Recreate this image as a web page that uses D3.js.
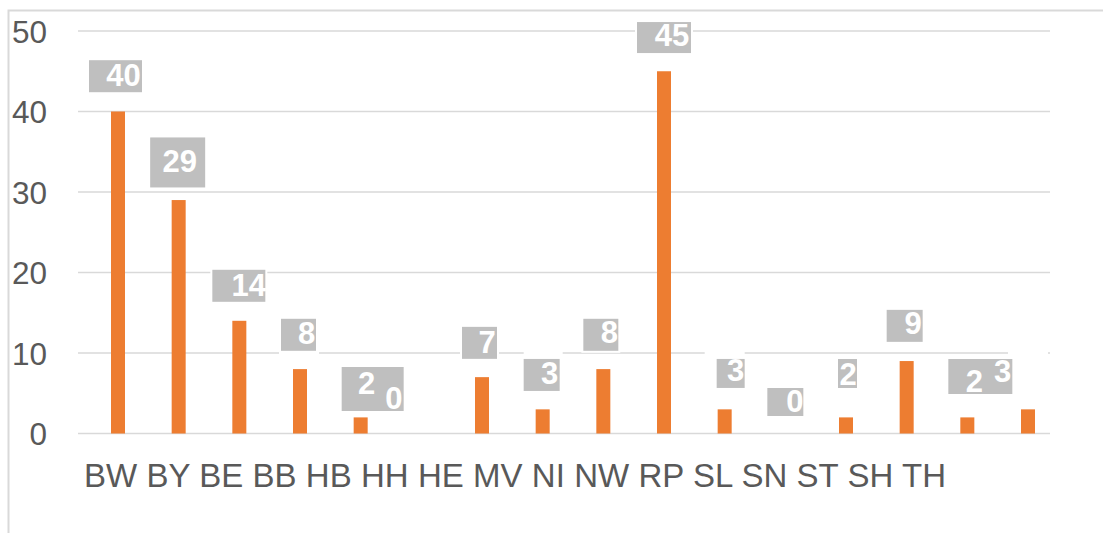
<!DOCTYPE html>
<html>
<head>
<meta charset="utf-8">
<script src="https://cdn.jsdelivr.net/npm/d3@7"></script>
<style>
  html, body { margin: 0; padding: 0; background: #fff; }
  svg { display: block; }
  text { font-family: "Liberation Sans", Arial, sans-serif; }
</style>
</head>
<body>
<svg id="chart" width="1103" height="533"></svg>
<script>
// ---- data ----
const categories = ["BW","BY","BE","BB","HB","HH","HE","MV","NI","NW","RP","SL","SN","ST","SH","TH"];
const values = [40, 29, 14, 8, 2, 0, 7, 3, 8, 45, 3, 0, 2, 9, 2, 3];
const yTicks = [0, 10, 20, 30, 40, 50];

// ---- label layout (pixel offsets from bar centre / bar top) ----
// box: [dx, dy, w, h] of box centre; text: [dx, dy]; halo: white knock-out [dx, dy, w, h]
const labelLayout = [
  {box: [-2.5, -35.3, 53, 32], text: [5.5, -36.3]},
  {box: [-1, -37.6, 55, 50],   text: [1, -38.6]},
  {box: [-0.5, -35, 53, 32],   text: [9.5, -35.5]},
  {box: [-1.5, -34.3, 35, 32], text: [6.5, -35.8], halo: [-1, -16.3, 40, 9]},
  {box: [12, -28.4, 62, 44],   text: [6, -33.9]},
  {box: null,                  text: [-27.5, -35]},
  {box: [-2.5, -34.3, 35, 32], text: [5, -34.8]},
  {box: [-1, -34.4, 36, 32],   text: [7, -35.9], halo: [0.5, -55.9, 39, 9]},
  {box: [-2.5, -34.3, 35, 32], text: [6, -36.8]},
  {box: [0, -33.7, 54, 31],    text: [8, -35.7]},
  {box: [6, -35.9, 28, 29],    text: [11, -38.4], halo: [0, -55.9, 40, 9]},
  {box: [0, -31.5, 36, 28],    text: [9.5, -32.5]},
  {box: [1.5, -43.9, 19, 29],  text: [2, -42.9]},
  {box: [-2, -35.2, 36, 32],   text: [6.5, -37.2]},
  {box: [13, -40.9, 64, 35],   text: [7, -36.4]},
  {box: null,                  text: [-25.5, -37.4], halo: [0, -55.9, 40, 9]}
];

const svg = d3.select("#chart");

// border
svg.append("path")
  .attr("d", "M8.5,533 L8.5,10.5 L1103,10.5")
  .attr("fill", "none").attr("stroke", "#d9d9d9").attr("stroke-width", 2);

const y = d3.scaleLinear().domain([0, 50]).range([433.5, 31]);
const x = d3.scalePoint().domain(categories).range([118, 1028]);
const barW = 14;
const gridX0 = 78, gridX1 = 1050;

// gridlines
svg.append("g").selectAll("line").data(yTicks).join("line")
  .attr("x1", gridX0).attr("x2", gridX1)
  .attr("y1", d => y(d)).attr("y2", d => y(d))
  .attr("stroke", "#d9d9d9").attr("stroke-width", 1.6);

// y tick labels
svg.append("g").selectAll("text").data(yTicks).join("text")
  .attr("x", 47).attr("y", d => y(d) + 11.5)
  .attr("text-anchor", "end")
  .attr("font-size", 31.5).attr("fill", "#595959")
  .text(d => d);

const data = categories.map((c, i) => ({cat: c, v: values[i], lay: labelLayout[i]}));

// bars
svg.append("g").selectAll("rect").data(data).join("rect")
  .attr("x", d => x(d.cat) - barW / 2)
  .attr("y", d => y(d.v))
  .attr("width", barW)
  .attr("height", d => y(0) - y(d.v))
  .attr("fill", "#ed7d31");

// halos
svg.append("g").selectAll("rect").data(data.filter(d => d.lay.halo)).join("rect")
  .attr("x", d => x(d.cat) + d.lay.halo[0] - d.lay.halo[2] / 2)
  .attr("y", d => y(d.v) + d.lay.halo[1] - d.lay.halo[3] / 2)
  .attr("width", d => d.lay.halo[2])
  .attr("height", d => d.lay.halo[3])
  .attr("fill", "#fff");

// label boxes
svg.append("g").selectAll("rect").data(data.filter(d => d.lay.box)).join("rect")
  .attr("x", d => x(d.cat) + d.lay.box[0] - d.lay.box[2] / 2)
  .attr("y", d => y(d.v) + d.lay.box[1] - d.lay.box[3] / 2)
  .attr("width", d => d.lay.box[2])
  .attr("height", d => d.lay.box[3])
  .attr("fill", "#bfbfbf")
  .attr("stroke", "#fff").attr("stroke-width", 4)
  .attr("paint-order", "stroke");

// label texts
svg.append("g").selectAll("text").data(data).join("text")
  .attr("x", d => x(d.cat) + d.lay.text[0])
  .attr("y", d => y(d.v) + d.lay.text[1])
  .attr("text-anchor", "middle")
  .attr("dominant-baseline", "central")
  .attr("font-size", 31).attr("font-weight", "bold")
  .attr("fill", "#fff")
  .text(d => d.v);

// category labels (flowing text line)
const cat = svg.append("text")
  .attr("x", 84).attr("y", 487)
  .attr("font-size", 33).attr("fill", "#595959")
  .attr("textLength", 862).attr("lengthAdjust", "spacing")
  .attr("xml:space", "preserve");
cat.selectAll("tspan").data(categories).join("tspan")
  .text((d, i) => (i < categories.length - 1 ? d + " " : d));
</script>
</body>
</html>
